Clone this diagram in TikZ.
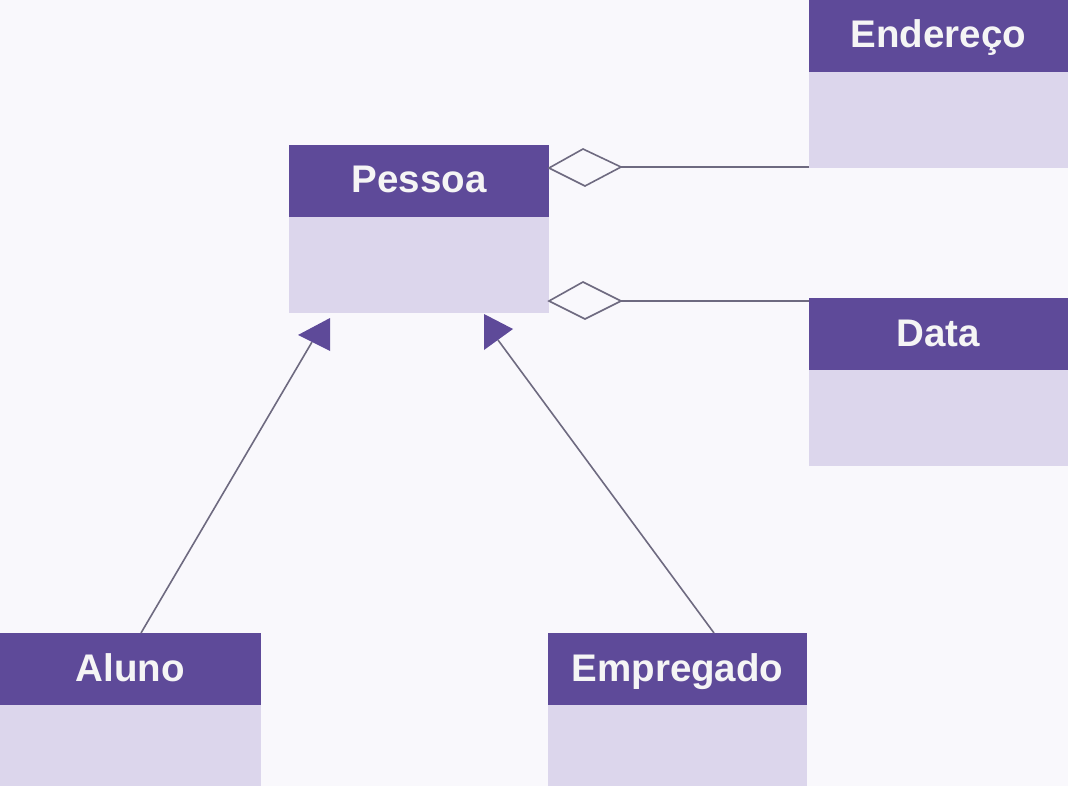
\documentclass[tikz,border=0pt]{standalone}
\usepackage{fontspec}
\setmainfont{Liberation Sans}
\definecolor{bgc}{HTML}{F9F8FC}
\definecolor{hdrc}{HTML}{5E4A99}
\definecolor{bodyc}{HTML}{DCD6EC}
\definecolor{linec}{HTML}{6E6A80}
\definecolor{txtc}{HTML}{F5F5F5}
\tikzset{
  hdr/.style={fill=hdrc, draw=none},
  bdy/.style={fill=bodyc, draw=none},
  ttl/.style={text=txtc, font=\fontsize{38.5}{42}\selectfont\bfseries, anchor=base, inner sep=0pt},
  conn/.style={draw=linec, line width=1.6pt},
  tri/.style={fill=hdrc, draw=none},
  dia/.style={draw=linec, line width=1.6pt, fill=bgc, line join=miter}
}
\begin{document}
\begin{tikzpicture}[x=1pt,y=-1pt]
\fill[bgc] (0,0) rectangle (1068,786);
\useasboundingbox (0,0) rectangle (1068,786);
% classes
\newcommand{\umlclass}[6]{%
  \fill[hdr] (#1,#2) rectangle (#3,#2+72);
  \fill[bdy] (#1,#2+72) rectangle (#3,#4);
  \node[ttl] (#6) at ({(#1+#3)/2},#2+48) {#5};
}
\umlclass{289}{145}{549}{313}{Pessoa}{pessoa}
\umlclass{809}{0}{1068}{168}{Endereço}{endereco}
\umlclass{809}{298}{1068}{466}{Data}{data}
\umlclass{0}{633}{261}{786}{Aluno}{aluno}
\umlclass{548}{633}{807}{786}{Empregado}{empregado}
\coordinate (pE) at (549,168);
\coordinate (pD) at (549,301);
\coordinate (endL) at (809,167);
\coordinate (dataL) at (809,301);
\coordinate (alunoT) at (141,633);
\coordinate (empT) at (714,633);
\coordinate (triA) at (312,342);
\coordinate (triE) at (498,340);
% aggregation
\draw[conn] (621,167) -- (endL);
\draw[dia] (pE) -- (583,149) -- (621,167) -- (585,186) -- cycle;
\draw[conn] (621,301) -- (dataL);
\draw[dia] (pD) -- (583,282) -- (621,301) -- (585,319) -- cycle;
% generalization
\draw[conn] (alunoT) -- (triA);
\fill[tri] (298,335) -- (330,318) -- (330,351) -- cycle;
\draw[conn] (empT) -- (triE);
\fill[tri] (484,314) -- (513,329) -- (484,350) -- cycle;
\end{tikzpicture}
\end{document}
